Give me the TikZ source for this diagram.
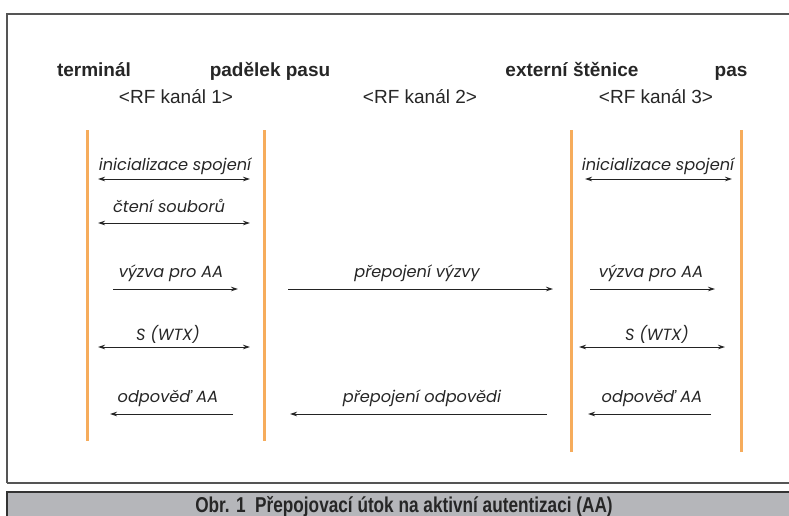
\documentclass[tikz,border=0pt]{standalone}
\usepackage{fontspec}
\setmainfont{Liberation Sans}
\newfontfamily\labfont{Poppins}
\newfontfamily\capfont{Liberation Sans}[FakeStretch=0.8]
\usetikzlibrary{arrows.meta}
\definecolor{lifeorange}{RGB}{246,172,92}
\definecolor{framegray}{RGB}{85,85,85}
\definecolor{capgray}{RGB}{181,182,186}
\definecolor{msgcol}{RGB}{35,35,35}
\begin{document}
\begin{tikzpicture}[x=1pt,y=-1pt,
  head/.style={font=\fontsize{19}{21}\selectfont\bfseries, text=black!85, anchor=base, inner sep=0},
  chan/.style={font=\fontsize{19}{21}\selectfont, text=black!85, anchor=base, inner sep=0},
  lab/.style={font=\labfont\itshape\fontsize{16.2}{18}\selectfont, text=black!85, anchor=base, inner sep=0},
  life/.style={draw=lifeorange, line width=3pt},
  msg/.style={draw=msgcol, line width=0.9pt, -{Stealth[length=7pt,width=4.5pt]}},
  msgboth/.style={draw=msgcol, line width=0.9pt, {Stealth[length=7pt,width=4.5pt]}-{Stealth[length=7pt,width=4.5pt]}}]
\useasboundingbox (0,0) rectangle (789,515);
% frame
\draw[framegray, line width=2pt] (7,483) -- (7,14) -- (800,14);
\draw[framegray, line width=1.5pt] (7,483) -- (800,483);
% caption bar
\fill[capgray] (7,492) rectangle (800,520);
\draw[black!80, line width=2pt] (7,520) -- (7,492) -- (800,492);
\node[anchor=base, inner sep=0, text=black!85, font=\capfont\bfseries\fontsize{21.5}{23}\selectfont] (cap) at (404,512) {Obr. 1\ \ Přepojovací útok na aktivní autentizaci (AA)};
% headers
\node[head] (hterm) at (94,76) {terminál};
\node[head] (hfake) at (270,76) {padělek pasu};
\node[head] (hbug) at (572,76) {externí štěnice};
\node[head] (hpas) at (731,76) {pas};
\node[chan] (rf1) at (176,103) {<RF kanál 1>};
\node[chan] (rf2) at (420,103) {<RF kanál 2>};
\node[chan] (rf3) at (656,103) {<RF kanál 3>};
% lifelines
\coordinate (t1) at (87,130); \coordinate (t2) at (87,441);
\coordinate (f1) at (264,130); \coordinate (f2) at (264,441);
\coordinate (b1) at (571,130); \coordinate (b2) at (571,452);
\coordinate (p1) at (741,130); \coordinate (p2) at (741,452);
\draw[life] (t1) -- (t2);
\draw[life] (f1) -- (f2);
\draw[life] (b1) -- (b2);
\draw[life] (p1) -- (p2);
% row 1
\coordinate (a1l) at (98,179); \coordinate (a1r) at (250,179);
\coordinate (c1l) at (585,179); \coordinate (c1r) at (732,179);
\draw[msgboth] (a1l) -- (a1r);
\draw[msgboth] (c1l) -- (c1r);
\node[lab] (l1a) at (175,170) {inicializace spojení};
\node[lab] (l1c) at (658,170) {inicializace spojení};
% row 2
\coordinate (a2l) at (98,223); \coordinate (a2r) at (250,223);
\draw[msgboth] (a2l) -- (a2r);
\node[lab] (l2a) at (169,212) {čtení souborů};
% row 3
\coordinate (a3l) at (113,289); \coordinate (a3r) at (238,289);
\coordinate (m3l) at (288,289); \coordinate (m3r) at (553,289);
\coordinate (c3l) at (590,289); \coordinate (c3r) at (715,289);
\draw[msg] (a3l) -- (a3r);
\draw[msg] (m3l) -- (m3r);
\draw[msg] (c3l) -- (c3r);
\node[lab] (l3a) at (171,277) {výzva pro AA};
\node[lab] (l3m) at (417,277) {přepojení výzvy};
\node[lab] (l3c) at (651,277) {výzva pro AA};
% row 4
\coordinate (a4l) at (98,347); \coordinate (a4r) at (250,347);
\coordinate (c4l) at (579,347); \coordinate (c4r) at (725,347);
\draw[msgboth] (a4l) -- (a4r);
\draw[msgboth] (c4l) -- (c4r);
\node[lab] (l4a) at (168,340) {S (WTX)};
\node[lab] (l4c) at (657,340) {S (WTX)};
% row 5
\coordinate (a5r) at (233,414); \coordinate (a5l) at (110,414);
\coordinate (m5r) at (547,414); \coordinate (m5l) at (290,414);
\coordinate (c5r) at (711,414); \coordinate (c5l) at (588,414);
\draw[msg] (a5r) -- (a5l);
\draw[msg] (m5r) -- (m5l);
\draw[msg] (c5r) -- (c5l);
\node[lab] (l5a) at (168,402) {odpověď AA};
\node[lab] (l5m) at (422,402) {přepojení odpovědi};
\node[lab] (l5c) at (652,402) {odpověď AA};
\end{tikzpicture}
\end{document}
